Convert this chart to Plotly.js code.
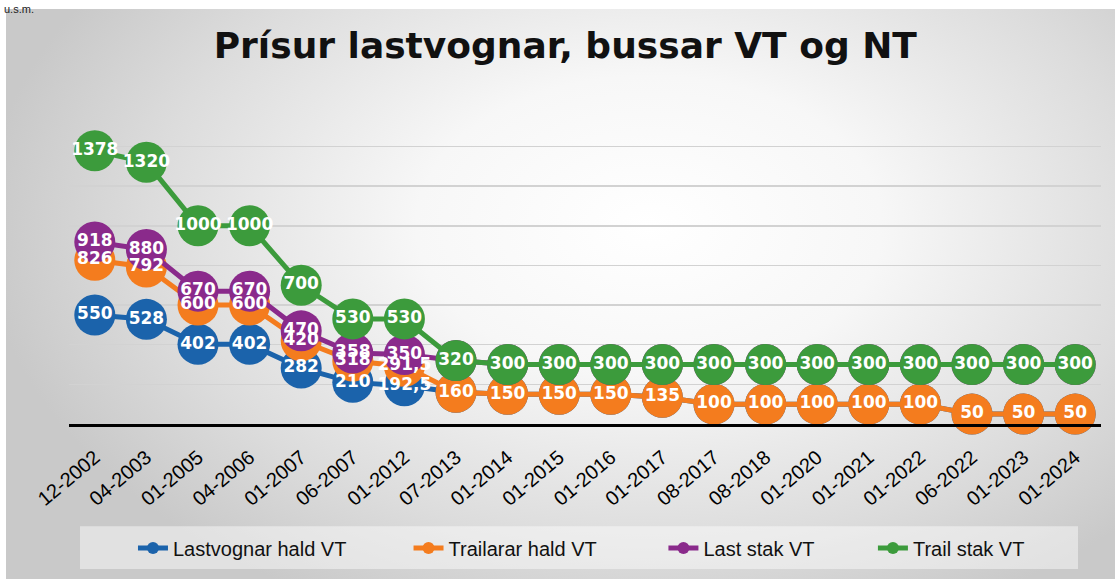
<!DOCTYPE html>
<html>
<head>
<meta charset="utf-8">
<script src="https://cdn.plot.ly/plotly-3.0.1.min.js"></script>
<style>
  html, body { margin: 0; padding: 0; background: #ffffff; }
  #bg { position: absolute; left: 6px; top: 9px; width: 1109px; height: 570px;
        background: radial-gradient(ellipse 60% 75% at 58% 38%, #ffffff 0%, #f7f7f7 35%, #dcdcdc 75%, #c9c9c9 100%); }
  #chart { position: absolute; left: 0; top: 0; width: 1115px; height: 579px; }
</style>
</head>
<body>
<div id="bg"></div>
<div id="chart"></div>
<script>
const categories = ["12-2002","04-2003","01-2005","04-2006","01-2007","06-2007","01-2012","07-2013","01-2014","01-2015","01-2016","01-2017","08-2017","08-2018","01-2020","01-2021","01-2022","06-2022","01-2023","01-2024"];
const lastvognarHaldVT = [550,528,402,402,282,210,192.5,160,150,150,150,135,100,100,100,100,100,50,50,50];
const trailararHaldVT  = [826,792,600,600,420,318,291.5,160,150,150,150,135,100,100,100,100,100,50,50,50];
const lastStakVT       = [918,880,670,670,470,358,350,320,300,300,300,300,300,300,300,300,300,300,300,300];
const trailStakVT      = [1378,1320,1000,1000,700,530,530,320,300,300,300,300,300,300,300,300,300,300,300,300];
const seriesNames = ["Lastvognar hald VT","Trailarar hald VT","Last stak VT","Trail stak VT"];
const seriesColors = ["#1b63ab","#f47c1e","#8a2a8b","#3c9b3c"];
const seriesData = [lastvognarHaldVT, trailararHaldVT, lastStakVT, trailStakVT];
const legendIds = ["legend","legend2","legend3","legend4"];
const legendX = [0.062, 0.329, 0.576, 0.779];

const fmt = v => String(v).replace('.', ',');

const lineTraces = seriesData.map((vals, i) => ({
  type: 'scatter',
  mode: 'lines+markers',
  name: seriesNames[i],
  x: categories,
  y: vals,
  line: {color: seriesColors[i], width: 5},
  marker: {color: seriesColors[i], size: 41},
  legend: legendIds[i],
  cliponaxis: false,
  hoverinfo: 'x+y+name'
}));

// data labels drawn above all markers (as in the original); a label is left out
// where a later series' marker sits exactly on the same point and hides it
const labelTraces = seriesData.map((vals, i) => ({
  type: 'scatter',
  mode: 'text',
  x: categories,
  y: vals,
  text: vals.map((v, k) => seriesData.slice(i + 1).some(s => s[k] === v) ? '' : fmt(v)),
  textposition: 'middle center',
  textfont: {family: 'DejaVu Sans, Liberation Sans, sans-serif', size: 17, color: '#ffffff', weight: 'bold'},
  showlegend: false,
  cliponaxis: false,
  hoverinfo: 'skip'
}));

const legendBase = {
  orientation: 'h',
  y: -0.39, yanchor: 'middle', xanchor: 'left',
  bgcolor: 'rgba(0,0,0,0)',
  font: {family: 'Liberation Sans, Arial, sans-serif', size: 20, color: '#111111'},
  itemsizing: 'constant'
};
const layout = {
  width: 1115, height: 579,
  margin: {l: 69, r: 14, t: 106, b: 153},
  paper_bgcolor: 'rgba(0,0,0,0)',
  plot_bgcolor: 'rgba(0,0,0,0)',
  showlegend: true,
  title: {
    text: '<b>Prísur lastvognar, bussar VT og NT</b>',
    font: {family: 'DejaVu Sans, Liberation Sans, sans-serif', size: 36, color: '#111111'},
    x: 0.507, xanchor: 'center', xref: 'container',
    y: 0.922, yanchor: 'middle', yref: 'container'
  },
  xaxis: {
    type: 'category',
    range: [-0.5, 19.5],
    tickangle: -40,
    tickfont: {family: 'Liberation Sans, Arial, sans-serif', size: 20, color: '#000000'},
    showgrid: false,
    showline: true, linecolor: '#000000', linewidth: 3,
    ticks: 'outside', ticklen: 11, tickcolor: 'rgba(0,0,0,0)',
    zeroline: false,
    fixedrange: true
  },
  yaxis: {
    range: [0, 1604],
    dtick: 200,
    showticklabels: false,
    showgrid: true, gridcolor: '#d2d2d2', gridwidth: 1.5,
    zeroline: false, showline: false, ticks: '',
    fixedrange: true
  },
  shapes: [{
    type: 'rect', xref: 'paper', yref: 'paper',
    x0: (80-69)/1032, x1: (1078-69)/1032,
    y0: (426-572)/320, y1: (426-529)/320,
    fillcolor: 'rgba(255,255,255,0.45)', line: {width: 0}, layer: 'below'
  }],
  annotations: [{
    text: 'u.s.m.', xref: 'paper', yref: 'paper',
    x: (2-69)/1032, xanchor: 'left', y: (426-0)/320, yanchor: 'top',
    showarrow: false, font: {family: 'Liberation Sans, Arial, sans-serif', size: 11, color: '#222'}
  }]
};
legendIds.forEach((id, i) => { layout[id] = Object.assign({}, legendBase, {x: legendX[i]}); });

Plotly.newPlot('chart', lineTraces.concat(labelTraces), layout, {displayModeBar: false, staticPlot: true});
</script>
</body>
</html>
